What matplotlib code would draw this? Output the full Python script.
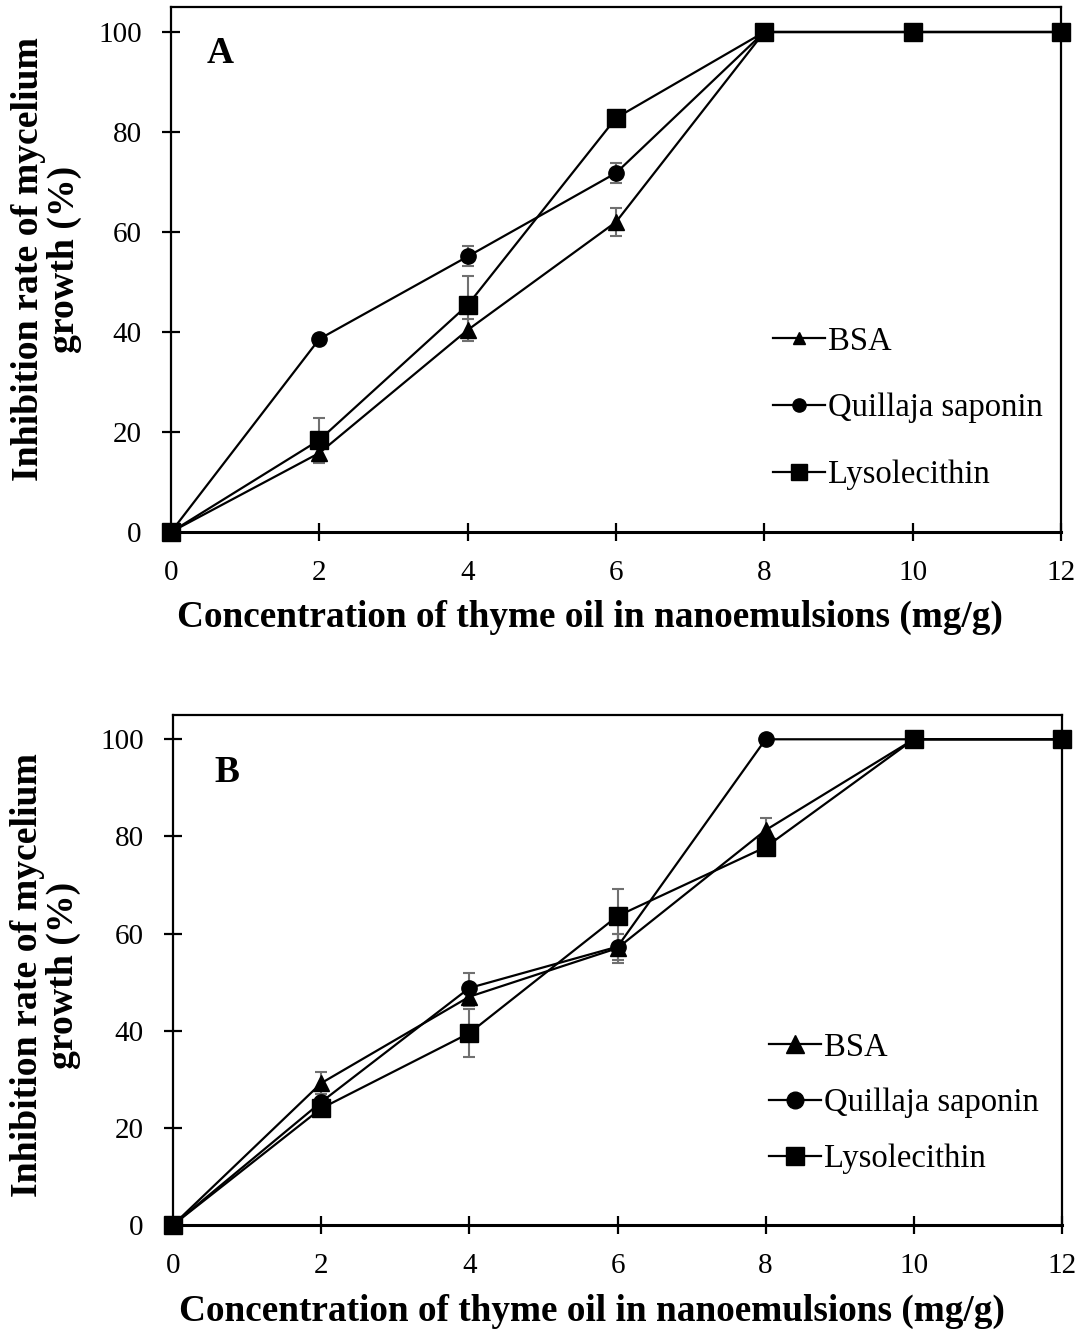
import matplotlib
matplotlib.use("Agg")
import matplotlib.pyplot as plt
from matplotlib.lines import Line2D
import numpy as np

plt.rcParams['font.family'] = ['Liberation Serif', 'DejaVu Serif']

x = [0, 2, 4, 6, 8, 10, 12]
series = ["BSA", "Quillaja saponin", "Lysolecithin"]
markers = ["^", "o", "s"]

# Panel A
a_bsa = [0, 15.8, 40.4, 62.0, 100, 100, 100]
a_bsa_err = [0, 2.0, 2.2, 2.8, 0, 0, 0]
a_qs = [0, 38.6, 55.1, 71.8, 100, 100, 100]
a_qs_err = [0, 0, 2.0, 2.0, 0, 0, 0]
a_ly = [0, 18.4, 45.4, 82.8, 100, 100, 100]
a_ly_err = [0, 4.4, 5.8, 0.8, 0, 0, 0]

# Panel B
b_bsa = [0, 29.2, 47.0, 57.0, 81.3, 100, 100]
b_bsa_err = [0, 2.3, 2.0, 3.0, 2.4, 0, 0]
b_qs = [0, 25.3, 48.8, 57.3, 100, 100, 100]
b_qs_err = [0, 0, 3.0, 2.7, 0, 0, 0]
b_ly = [0, 24.0, 39.5, 63.6, 77.8, 100, 100]
b_ly_err = [0, 0, 5.0, 5.5, 0, 0, 0]

xticks = [0, 2, 4, 6, 8, 10, 12]
yticks = [0, 20, 40, 60, 80, 100]
xlabel = "Concentration of thyme oil in nanoemulsions (mg/g)"
ylabel = "Inhibition rate of mycelium\ngrowth (%)"

fig = plt.figure(figsize=(10.82, 13.29), dpi=100)

panels = [
    dict(rect=[171/1082, 1-532/1329, (1061-171)/1082, (532-7)/1329], label="A",
         data=[(a_bsa, a_bsa_err), (a_qs, a_qs_err), (a_ly, a_ly_err)],
         msz=[11.5, 11, 13], lmsz=[9, 9.5, 11],
         legpos=(0.676, 0.236), legsp=1.11, xlab=(0.471, -0.13), ylab=(-0.100, 0.52),
         lab_xy=(0.040, 0.912)),
    dict(rect=[173/1082, 1-1225/1329, (1062-173)/1082, (1225-715)/1329], label="B",
         data=[(b_bsa, b_bsa_err), (b_qs, b_qs_err), (b_ly, b_ly_err)],
         msz=[11.5, 11, 13], lmsz=[13, 12, 13.5],
         legpos=(0.670, 0.239), legsp=0.77, xlab=(0.471, -0.135), ylab=(-0.103, 0.49),
         lab_xy=(0.047, 0.888)),
]

for p in panels:
    ax = fig.add_axes(p["rect"])
    for (vals, err), mk, ms, name in zip(p["data"], markers, p["msz"], series):
        e = np.array(err, dtype=float)
        ax.errorbar(x, vals, yerr=np.where(e > 0, e, np.nan), fmt='none',
                    ecolor='#707070', elinewidth=1.5, capsize=4.5, capthick=1.5, zorder=2)
        ax.plot(x, vals, color='black', lw=1.6, marker=mk, ms=ms,
                markerfacecolor='black', markeredgecolor='black', zorder=3, clip_on=False)
    ax.set_xlim(0, 12)
    ax.set_ylim(0, 105)
    ax.set_xticks(xticks)
    ax.set_yticks(yticks)
    ax.tick_params(direction='inout', length=13, width=1.6, labelsize=21)
    ax.tick_params(axis='y', pad=14.5)
    ax.tick_params(axis='x', pad=13.5)
    for s in ax.spines.values():
        s.set_linewidth(1.6)
        s.set_color('black')
    ax.spines['bottom'].set_linewidth(2.2)
    ax.set_xlabel(xlabel, fontsize=26.8, fontweight='bold')
    ax.xaxis.set_label_coords(*p["xlab"])
    ax.set_ylabel(ylabel, fontsize=27.2, fontweight='bold', linespacing=1.05)
    ax.yaxis.set_label_coords(*p["ylab"])
    ax.text(p["lab_xy"][0], p["lab_xy"][1], p["label"], transform=ax.transAxes,
            fontsize=27, fontweight='bold', va='center', ha='left')
    handles = [Line2D([], [], color='black', lw=1.6, marker=mk, ms=ms,
                      markerfacecolor='black', markeredgecolor='black')
               for mk, ms in zip(markers, p["lmsz"])]
    ax.legend(handles, series, loc='center left', bbox_to_anchor=p["legpos"],
              frameon=False, fontsize=23.5, handlelength=1.6, handletextpad=0.1,
              labelspacing=p["legsp"], borderaxespad=0, borderpad=0)

fig.savefig("out.png", dpi=100)
